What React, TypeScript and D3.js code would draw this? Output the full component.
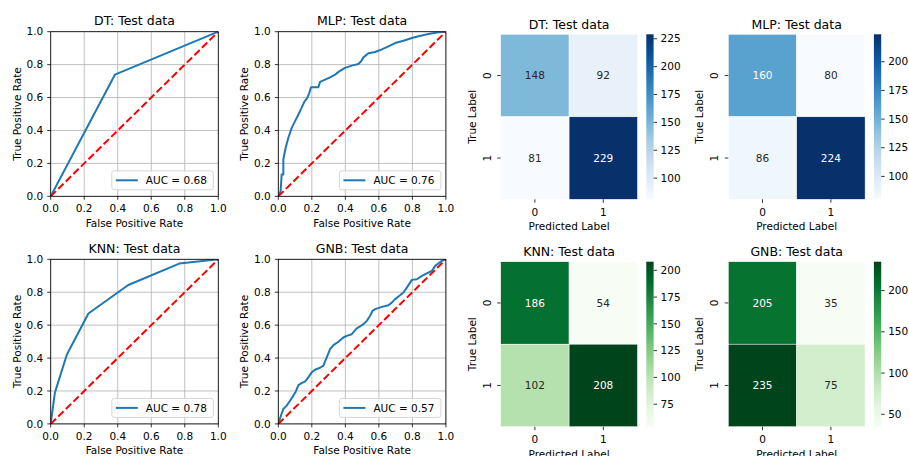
import React from "react";
import * as d3 from "d3";

const FONT = "DejaVu Sans";

// ROC axes ticks
const rocTicks = [0, 0.2, 0.4, 0.6, 0.8, 1.0];
const classLabels = ["0", "1"];

// ROC curves
const dtFpr = [0, 0.383, 1];
const dtTpr = [0, 0.739, 1];

const mlpFpr = [0, 0.014, 0.02, 0.03, 0.03, 0.044, 0.06, 0.08, 0.1, 0.12, 0.139, 0.155, 0.173, 0.185, 0.195, 0.239, 0.249, 0.279, 0.309, 0.339, 0.359, 0.398, 0.438, 0.478, 0.494, 0.508, 0.538, 0.578, 0.618, 0.657, 0.697, 0.747, 0.797, 0.837, 0.896, 0.956, 1];
const mlpTpr = [0, 0.032, 0.133, 0.133, 0.224, 0.295, 0.356, 0.416, 0.457, 0.497, 0.537, 0.574, 0.598, 0.628, 0.663, 0.663, 0.695, 0.709, 0.723, 0.739, 0.756, 0.78, 0.794, 0.804, 0.82, 0.844, 0.869, 0.877, 0.893, 0.911, 0.931, 0.945, 0.962, 0.972, 0.986, 0.996, 1];

const knnFpr = [0, 0.025, 0.096, 0.225, 0.463, 0.767, 1];
const knnTpr = [0, 0.19, 0.42, 0.671, 0.844, 0.974, 1];

const gnbFpr = [0, 0.016, 0.03, 0.05, 0.07, 0.09, 0.104, 0.12, 0.139, 0.159, 0.179, 0.199, 0.219, 0.249, 0.269, 0.289, 0.309, 0.329, 0.359, 0.388, 0.408, 0.438, 0.468, 0.488, 0.508, 0.528, 0.548, 0.562, 0.578, 0.618, 0.657, 0.677, 0.697, 0.717, 0.747, 0.767, 0.797, 0.827, 0.857, 0.886, 0.916, 0.936, 0.956, 0.976, 1];
const gnbTpr = [0, 0.051, 0.091, 0.111, 0.141, 0.172, 0.196, 0.236, 0.248, 0.257, 0.283, 0.313, 0.329, 0.341, 0.354, 0.404, 0.455, 0.479, 0.499, 0.525, 0.535, 0.545, 0.58, 0.592, 0.606, 0.626, 0.657, 0.687, 0.697, 0.711, 0.721, 0.737, 0.758, 0.774, 0.798, 0.828, 0.875, 0.879, 0.899, 0.915, 0.929, 0.96, 0.976, 0.99, 1];

const aucLabels = ["AUC = 0.68", "AUC = 0.76", "AUC = 0.78", "AUC = 0.57"];

// confusion matrices
const dtMatrix = [[148, 92], [81, 229]];
const mlpMatrix = [[160, 80], [86, 224]];
const knnMatrix = [[186, 54], [102, 208]];
const gnbMatrix = [[205, 35], [235, 75]];

const dtBarTicks = [100, 125, 150, 175, 200, 225];
const mlpBarTicks = [100, 125, 150, 175, 200];
const knnBarTicks = [75, 100, 125, 150, 175, 200];
const gnbBarTicks = [50, 100, 150, 200];

function luminance(c) {
  const rgb = d3.rgb(c);
  const lin = (v) => {
    v = v / 255;
    return v <= 0.03928 ? v / 12.92 : Math.pow((v + 0.055) / 1.055, 2.4);
  };
  return 0.2126 * lin(rgb.r) + 0.7152 * lin(rgb.g) + 0.0722 * lin(rgb.b);
}

function RocPanel({ id, x, y, title, fpr, tpr, auc }) {
  const w = 167.6, h = 164.6;
  const sx = d3.scaleLinear().domain([0, 1]).range([0, w]);
  const sy = d3.scaleLinear().domain([0, 1]).range([h, 0]);
  const line = d3.line().x(d => sx(d[0])).y(d => sy(d[1]));
  const pts = fpr.map((f, i) => [f, tpr[i]]);
  const lw = 101.5, lh = 19;
  const lx = w - 5 - lw, ly = h - 6.5 - lh;
  return (
    <g transform={`translate(${x},${y})`}>
      <defs>
        <clipPath id={`clip-${id}`}><rect x={0} y={0} width={w} height={h} /></clipPath>
      </defs>
      {rocTicks.map(t => (
        <g key={"g" + t}>
          <line x1={sx(t)} x2={sx(t)} y1={0} y2={h} stroke="#b0b0b0" strokeWidth={0.8} />
          <line x1={0} x2={w} y1={sy(t)} y2={sy(t)} stroke="#b0b0b0" strokeWidth={0.8} />
        </g>
      ))}
      <g clipPath={`url(#clip-${id})`}>
        <path d={line(pts)} fill="none" stroke="#1f77b4" strokeWidth={2} strokeLinejoin="round" />
        <path d={line([[0, 0], [1, 1]])} fill="none" stroke="#ff0000" strokeWidth={2} strokeDasharray="7.4,3.2" />
      </g>
      <rect x={0} y={0} width={w} height={h} fill="none" stroke="#000" strokeWidth={0.8} />
      {rocTicks.map(t => (
        <g key={"t" + t} fontFamily={FONT} fontSize={10.5}>
          <line x1={sx(t)} x2={sx(t)} y1={h} y2={h + 3.5} stroke="#000" strokeWidth={0.8} />
          <text x={sx(t)} y={h + 16} textAnchor="middle">{t.toFixed(1)}</text>
          <line x1={-3.5} x2={0} y1={sy(t)} y2={sy(t)} stroke="#000" strokeWidth={0.8} />
          <text x={-7.5} y={sy(t)} dy="0.35em" textAnchor="end">{t.toFixed(1)}</text>
        </g>
      ))}
      <text x={w / 2} y={-6.4} textAnchor="middle" fontFamily={FONT} fontSize={12.5}>{title}</text>
      <text x={w / 2} y={h + 30.5} textAnchor="middle" fontFamily={FONT} fontSize={10.5}>False Positive Rate</text>
      <text transform={`translate(${-30},${h / 2}) rotate(-90)`} textAnchor="middle" fontFamily={FONT} fontSize={10.5}>True Positive Rate</text>
      <g transform={`translate(${lx},${ly})`}>
        <rect x={0} y={0} width={lw} height={lh} rx={2.5} fill="#fff" fillOpacity={0.8} stroke="#cccccc" strokeWidth={0.8} />
        <line x1={4} x2={26} y1={lh / 2} y2={lh / 2} stroke="#1f77b4" strokeWidth={2} />
        <text x={34} y={lh / 2} dy="0.35em" fontFamily={FONT} fontSize={10.5}>{auc}</text>
      </g>
    </g>
  );
}

function HeatPanel({ id, x, y, title, matrix, scheme, barTicks }) {
  const w = 136.8, h = 165;
  const flat = matrix.flat();
  const lo = d3.min(flat), hi = d3.max(flat);
  const stops = scheme.map((_, i) => lo + (hi - lo) * i / (scheme.length - 1));
  const color = d3.scaleLinear().domain(stops).range(scheme).interpolate(d3.interpolateRgb).clamp(true);
  const bx = d3.scaleBand().domain(classLabels).range([0, w]);
  const by = d3.scaleBand().domain(classLabels).range([0, h]);
  const cbX = 145.6, cbW = 7.3;
  const cb = d3.scaleLinear().domain([lo, hi]).range([h, 0]);
  return (
    <g transform={`translate(${x},${y})`} fontFamily={FONT}>
      <defs>
        <linearGradient id={`grad-${id}`} x1={0} y1={1} x2={0} y2={0}>
          {scheme.map((c, i) => <stop key={i} offset={i / (scheme.length - 1)} stopColor={c} />)}
        </linearGradient>
      </defs>
      {matrix.map((row, r) => row.map((v, c) => {
        const fill = color(v);
        return (
          <g key={r + "-" + c}>
            <rect x={bx(classLabels[c])} y={by(classLabels[r])} width={bx.bandwidth()} height={by.bandwidth()}
              fill={fill} stroke="#fff" strokeWidth={0.5} />
            <text x={bx(classLabels[c]) + bx.bandwidth() / 2} y={by(classLabels[r]) + by.bandwidth() / 2} dy="0.35em"
              textAnchor="middle" fontSize={10.5} fill={luminance(fill) > 0.408 ? "#262626" : "#ffffff"}>{v}</text>
          </g>
        );
      }))}
      {classLabels.map(l => (
        <g key={"x" + l} fontSize={10.5}>
          <line x1={bx(l) + bx.bandwidth() / 2} x2={bx(l) + bx.bandwidth() / 2} y1={h} y2={h + 3.5} stroke="#000" strokeWidth={0.8} />
          <text x={bx(l) + bx.bandwidth() / 2} y={h + 16.5} textAnchor="middle">{l}</text>
          <line x1={-3.5} x2={0} y1={by(l) + by.bandwidth() / 2} y2={by(l) + by.bandwidth() / 2} stroke="#000" strokeWidth={0.8} />
          <text transform={`translate(${-10.2},${by(l) + by.bandwidth() / 2}) rotate(-90)`} textAnchor="middle">{l}</text>
        </g>
      ))}
      <rect x={cbX} y={0} width={cbW} height={h} fill={`url(#grad-${id})`} />
      {barTicks.map(t => (
        <g key={"c" + t} fontSize={10.5}>
          <line x1={cbX + cbW} x2={cbX + cbW + 3.5} y1={cb(t)} y2={cb(t)} stroke="#000" strokeWidth={0.8} />
          <text x={cbX + cbW + 7} y={cb(t)} dy="0.35em">{t}</text>
        </g>
      ))}
      <text x={w / 2} y={-5.8} textAnchor="middle" fontSize={12.5}>{title}</text>
      <text x={w / 2} y={h + 31} textAnchor="middle" fontSize={10.5}>Predicted Label</text>
      <text transform={`translate(${-25},${h / 2}) rotate(-90)`} textAnchor="middle" fontSize={10.5}>True Label</text>
    </g>
  );
}

export default function App() {
  const blues = d3.schemeBlues[9];
  const greens = d3.schemeGreens[9];
  return (
    <svg width={909} height={456} style={{ position: "absolute", left: 0, top: 0, background: "#fff" }}>
      <RocPanel id="dt" x={50.7} y={31.7} title="DT: Test data" fpr={dtFpr} tpr={dtTpr} auc={aucLabels[0]} />
      <RocPanel id="mlp" x={278.3} y={31.7} title="MLP: Test data" fpr={mlpFpr} tpr={mlpTpr} auc={aucLabels[1]} />
      <RocPanel id="knn" x={50.7} y={259.3} title="KNN: Test data" fpr={knnFpr} tpr={knnTpr} auc={aucLabels[2]} />
      <RocPanel id="gnb" x={278.3} y={259.3} title="GNB: Test data" fpr={gnbFpr} tpr={gnbTpr} auc={aucLabels[3]} />
      <HeatPanel id="hdt" x={500.7} y={34.3} title="DT: Test data" matrix={dtMatrix} scheme={blues} barTicks={dtBarTicks} />
      <HeatPanel id="hmlp" x={728.3} y={34.3} title="MLP: Test data" matrix={mlpMatrix} scheme={blues} barTicks={mlpBarTicks} />
      <HeatPanel id="hknn" x={500.7} y={261.7} title="KNN: Test data" matrix={knnMatrix} scheme={greens} barTicks={knnBarTicks} />
      <HeatPanel id="hgnb" x={728.3} y={261.7} title="GNB: Test data" matrix={gnbMatrix} scheme={greens} barTicks={gnbBarTicks} />
    </svg>
  );
}
